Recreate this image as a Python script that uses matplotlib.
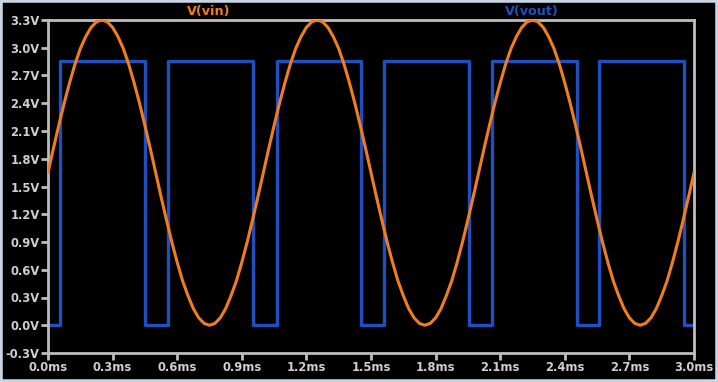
import matplotlib
matplotlib.use('Agg')
import matplotlib.pyplot as plt
from matplotlib.patches import Rectangle

# Time axis in ms, vin sampled every 0.025 ms
t_step = 0.025
vin = [
    1.65, 1.91, 2.16, 2.40, 2.62, 2.82, 2.99, 3.12, 3.22, 3.28,
    3.30, 3.28, 3.22, 3.12, 2.99, 2.82, 2.62, 2.40, 2.16, 1.91,
    1.65, 1.39, 1.14, 0.90, 0.68, 0.48, 0.32, 0.18, 0.08, 0.02,
    0.00, 0.02, 0.08, 0.18, 0.32, 0.48, 0.68, 0.90, 1.14, 1.39,
    1.65, 1.91, 2.16, 2.40, 2.62, 2.82, 2.99, 3.12, 3.22, 3.28,
    3.30, 3.28, 3.22, 3.12, 2.99, 2.82, 2.62, 2.40, 2.16, 1.91,
    1.65, 1.39, 1.14, 0.90, 0.68, 0.48, 0.32, 0.18, 0.08, 0.02,
    0.00, 0.02, 0.08, 0.18, 0.32, 0.48, 0.68, 0.90, 1.14, 1.39,
    1.65, 1.91, 2.16, 2.40, 2.62, 2.82, 2.99, 3.12, 3.22, 3.28,
    3.30, 3.28, 3.22, 3.12, 2.99, 2.82, 2.62, 2.40, 2.16, 1.91,
    1.65, 1.39, 1.14, 0.90, 0.68, 0.48, 0.32, 0.18, 0.08, 0.02,
    0.00, 0.02, 0.08, 0.18, 0.32, 0.48, 0.68, 0.90, 1.14, 1.39,
    1.65,
]
t_vin = [i * t_step for i in range(len(vin))]

# vout square wave: switching instants (ms) and levels after each one
vout_t = [0.0, 0.056, 0.450, 0.557, 0.952, 1.064, 1.454, 1.561,
          1.955, 2.062, 2.457, 2.559, 2.954, 3.0]
vout_v = [0.0, 2.86, 0.0, 2.86, 0.0, 2.86, 0.0, 2.86,
          0.0, 2.86, 0.0, 2.86, 0.0, 0.0]

x_ticks = [0.0, 0.3, 0.6, 0.9, 1.2, 1.5, 1.8, 2.1, 2.4, 2.7, 3.0]
y_ticks = [-0.3, 0.0, 0.3, 0.6, 0.9, 1.2, 1.5, 1.8, 2.1, 2.4, 2.7, 3.0, 3.3]

orange = '#f07d1e'
blue = '#1f4fc0'
grey = '#bdbdbd'

fig = plt.figure(figsize=(7.18, 3.82), dpi=100)
fig.patch.set_facecolor('black')
ax = fig.add_axes([48 / 718, 29 / 382, 646 / 718, 333 / 382])
ax.set_facecolor('black')

ax.step(vout_t, vout_v, where='post', color=blue, lw=2.4, zorder=2)
ax.plot(t_vin, vin, color=orange, lw=2.2, zorder=3)

ax.set_xlim(0, 3.0)
ax.set_ylim(-0.3, 3.3)
ax.set_xticks(x_ticks)
ax.set_xticklabels([f'{v:.1f}ms' for v in x_ticks])
ax.set_yticks(y_ticks)
ax.set_yticklabels([f'{v:.1f}V' for v in y_ticks])

for s in ax.spines.values():
    s.set_color(grey)
    s.set_linewidth(2)
ax.tick_params(colors=grey, width=2, length=5, pad=1, labelsize=8.3)
for lab in ax.get_xticklabels() + ax.get_yticklabels():
    lab.set_fontweight('bold')
    lab.set_color('#cfcfcf')

fig.text(209 / 718, 1 - 11 / 382, 'V(vin)', color=orange, fontsize=9.2,
         fontweight='bold', ha='center', va='center')
fig.text(532 / 718, 1 - 11 / 382, 'V(vout)', color=blue, fontsize=9.2,
         fontweight='bold', ha='center', va='center')

# light window frame around the plot pane
fig.patches.append(Rectangle((0, 0), 1, 1, transform=fig.transFigure,
                             fill=False, edgecolor='#c9d5e2', lw=4))

fig.savefig('out.png', dpi=100, facecolor='black')
